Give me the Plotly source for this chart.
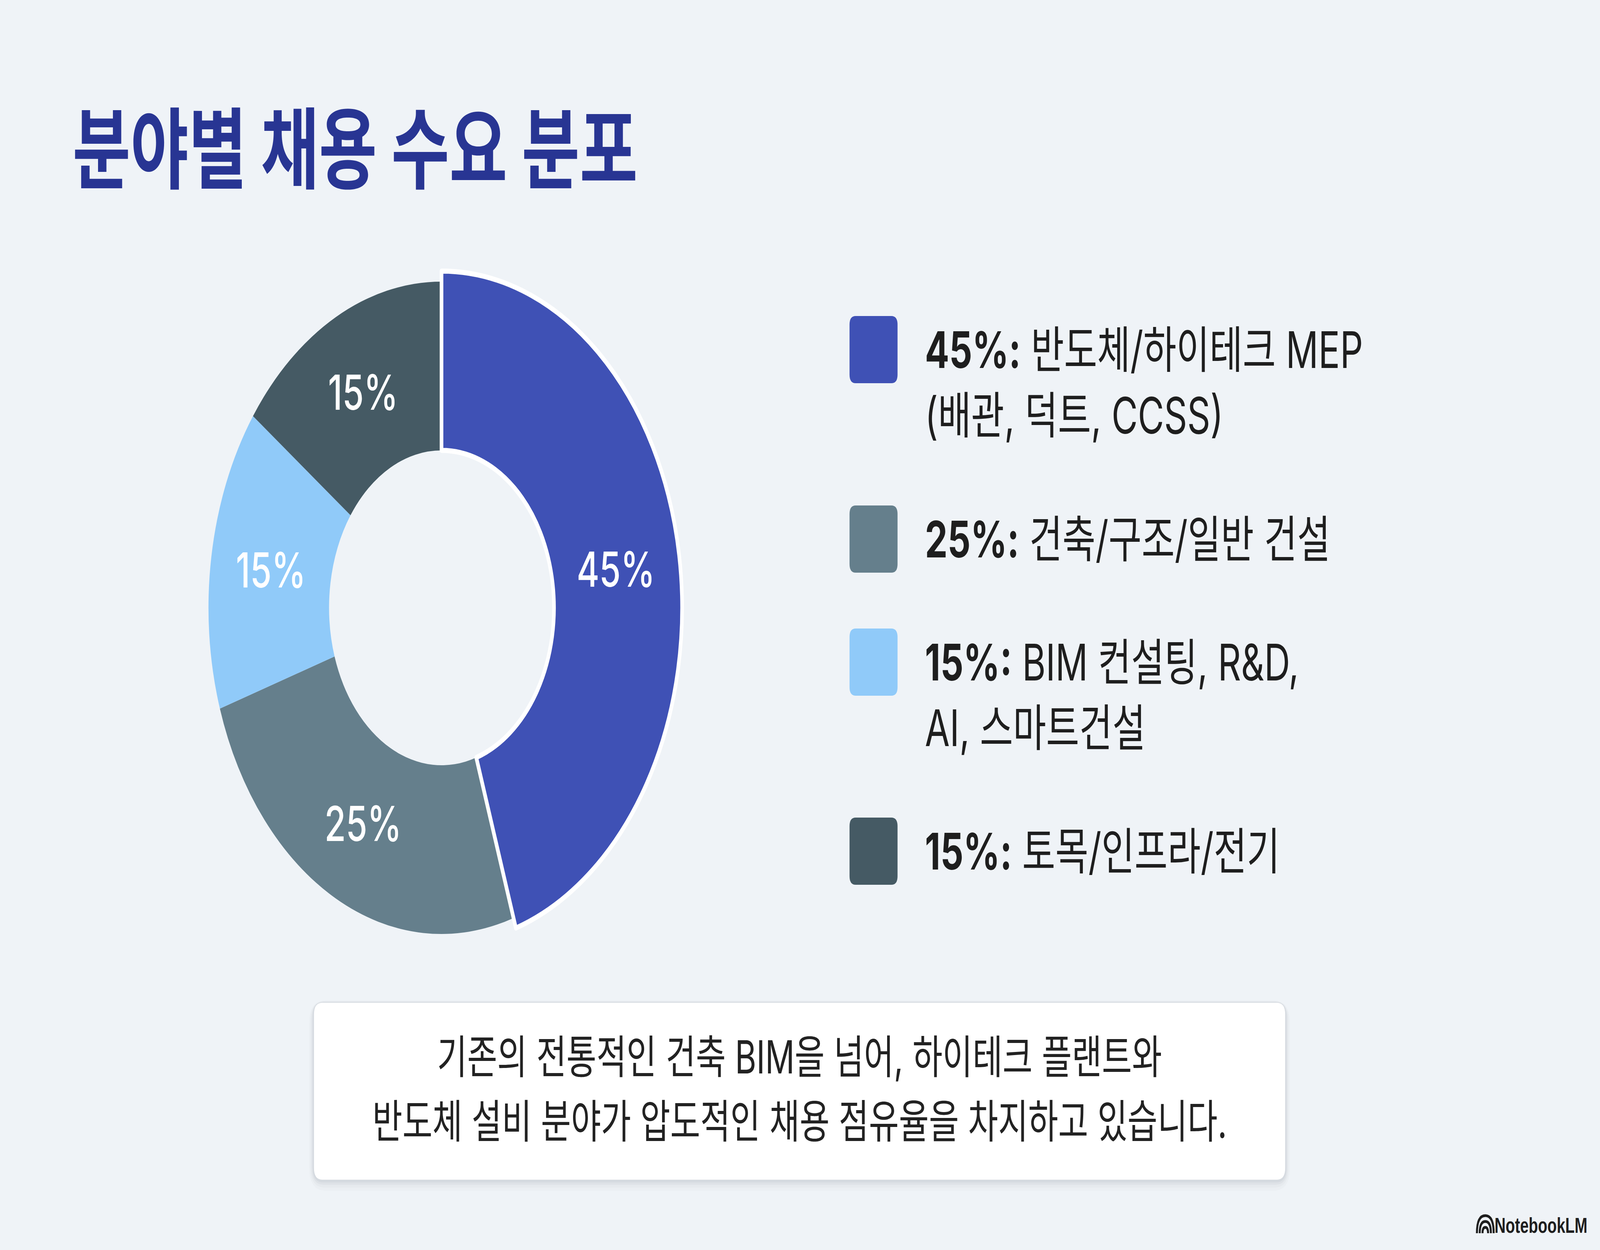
import plotly.graph_objects as go

W, H = 5733, 3200

# ---------------- data ----------------
title_text = "분야별 채용 수요 분포"
shares = [45, 25, 15, 15]
pct_labels = [f"{v}%" for v in shares]
categories = [
    "반도체/하이테크 MEP<br>(배관, 덕트, CCSS)",
    "건축/구조/일반 건설",
    "BIM 컨설팅, R&D,<br>AI, 스마트건설",
    "토목/인프라/전기",
]
colors = ["#3F51B5", "#657F8C", "#90CAF9", "#455A64"]
note_lines = [
    "기존의 전통적인 건축 BIM을 넘어, 하이테크 플랜트와",
    "반도체 설비 분야가 압도적인 채용 점유율을 차지하고 있습니다.",
]
brand = "NotebookLM"

LATIN = "Inter, 'Noto Sans CJK KR', sans-serif"
BG = "#EFF3F7"


def dom(cx, cy, r):
    return dict(x=[(cx - r) / W, (cx + r) / W], y=[1 - (cy + r) / H, 1 - (cy - r) / H])


def rrect(x0, y0, x1, y1, r):
    return (f"M {x0 + r},{y0} L {x1 - r},{y0} Q {x1},{y0} {x1},{y0 + r} "
            f"L {x1},{y1 - r} Q {x1},{y1} {x1 - r},{y1} L {x0 + r},{y1} "
            f"Q {x0},{y1} {x0},{y1 - r} L {x0},{y0 + r} Q {x0},{y0} {x0 + r},{y0} Z")


CX, CY = 1582, 1556
R_BASE, R_INNER, R_BIG = 835, 403, 862

fig = go.Figure()
fig.add_trace(go.Pie(
    values=shares,
    labels=[c.replace("<br>", " ") for c in categories],
    text=["" if i == 0 else t for i, t in enumerate(pct_labels)],
    textinfo="text", textposition="inside", insidetextorientation="horizontal",
    insidetextfont=dict(family=LATIN, size=124, color="white", weight=500),
    marker=dict(colors=colors, line=dict(width=0)),
    hole=R_INNER / R_BASE, sort=False, direction="clockwise", rotation=0,
    domain=dom(CX, CY, R_BASE), showlegend=False, hoverinfo="skip",
))
fig.add_trace(go.Pie(
    values=shares,
    labels=[c.replace("<br>", " ") for c in categories],
    text=[t if i == 0 else "" for i, t in enumerate(pct_labels)],
    textinfo="text", textposition="inside", insidetextorientation="horizontal",
    insidetextfont=dict(family=LATIN, size=124, color="white", weight=500),
    marker=dict(
        colors=[colors[0]] + ["rgba(0,0,0,0)"] * (len(shares) - 1),
        line=dict(color=["white"] + ["rgba(0,0,0,0)"] * (len(shares) - 1),
                  width=[13] + [0] * (len(shares) - 1)),
    ),
    hole=R_INNER / R_BIG, sort=False, direction="clockwise", rotation=0,
    domain=dom(CX, CY, R_BIG), showlegend=False, hoverinfo="skip",
))

shapes, annotations = [], []

# title
annotations.append(dict(
    x=258, y=366, xref="x", yref="y", xanchor="left", yanchor="middle",
    text=title_text, showarrow=False,
    font=dict(family="'Noto Sans CJK KR', Inter, sans-serif", size=226,
              color="#283593", weight=700),
))

# legend
LEG_X0, LEG_SIZE = 3044, 172
leg_centers = [895, 1380, 1695, 2179]
LEG_FS = 129
for cat, v, col, yc in zip(categories, shares, colors, leg_centers):
    shapes.append(dict(
        type="path", xref="x", yref="y", layer="above",
        path=rrect(LEG_X0, yc - LEG_SIZE / 2, LEG_X0 + LEG_SIZE, yc + LEG_SIZE / 2, 22),
        fillcolor=col, line=dict(width=0),
    ))
    nlines = cat.count("<br>") + 1
    annotations.append(dict(
        x=3312, y=yc + 0.65 * LEG_FS * (nlines - 1), xref="x", yref="y",
        xanchor="left", yanchor="middle", align="left",
        text=f"<b>{v}%:</b> {cat}", showarrow=False,
        font=dict(family=LATIN, size=LEG_FS, color="#1E1E1E"),
    ))

# note box with a soft shadow
BX0, BY0, BX1, BY1 = 1125, 2567, 4605, 3020
for k, a in [(28, 0.018), (20, 0.025), (13, 0.035), (7, 0.045)]:
    shapes.append(dict(
        type="path", xref="x", yref="y", layer="below",
        path=rrect(BX0 - k * 0.6, BY0 - k * 0.2, BX1 + k * 0.6, BY1 + k, 30 + k),
        fillcolor=f"rgba(30,40,60,{a})", line=dict(width=0),
    ))
shapes.append(dict(
    type="path", xref="x", yref="y", layer="below",
    path=rrect(BX0, BY0, BX1, BY1, 30), fillcolor="white", line=dict(width=0),
))
for line, yc in zip(note_lines, [2705, 2870]):
    annotations.append(dict(
        x=(BX0 + BX1) / 2, y=yc, xref="x", yref="y", xanchor="center", yanchor="middle",
        text=line, showarrow=False, font=dict(family=LATIN, size=117, color="#222222"),
    ))

# brand mark
annotations.append(dict(
    x=5690, y=3137, xref="x", yref="y", xanchor="right", yanchor="middle",
    text=brand, showarrow=False,
    font=dict(family="'Liberation Sans', Arial, sans-serif", size=55, color="#1E1E1E", weight=700),
))
for rr in [30, 20, 10]:
    shapes.append(dict(
        type="path", xref="x", yref="y", layer="above",
        path=f"M {5322 - rr},{3157} Q {5322 - rr},{3157 - 1.5 * rr} {5322},{3157 - 1.5 * rr} "
             f"Q {5322 + rr},{3157 - 1.5 * rr} {5322 + rr},{3157}",
        line=dict(color="#1E1E1E", width=7), fillcolor="rgba(0,0,0,0)",
    ))

fig.update_layout(
    width=W, height=H, margin=dict(l=0, r=0, t=0, b=0),
    paper_bgcolor=BG, plot_bgcolor=BG,
    xaxis=dict(range=[0, W], visible=False, fixedrange=True),
    yaxis=dict(range=[H, 0], visible=False, fixedrange=True),
    shapes=shapes, annotations=annotations, showlegend=False,
)

# fit the 5733x3200 canvas into whatever viewport the browser actually has
fit_script = """
(function(){
  var W = 5733, H = 3200;
  document.documentElement.style.margin = '0';
  document.body.style.margin = '0';
  document.body.style.overflow = 'hidden';
  document.body.style.background = '#EFF3F7';
  var g = document.getElementById('{plot_id}');
  var sx = window.innerWidth / W, sy = window.innerHeight / H;
  if (Math.abs(sx - 1) > 0.001 || Math.abs(sy - 1) > 0.001) {
    g.style.transformOrigin = '0 0';
    g.style.transform = 'scale(' + sx + ',' + sy + ')';
  }
})();
"""
fig.write_html("out.html", post_script=fit_script, config={"displayModeBar": False})
